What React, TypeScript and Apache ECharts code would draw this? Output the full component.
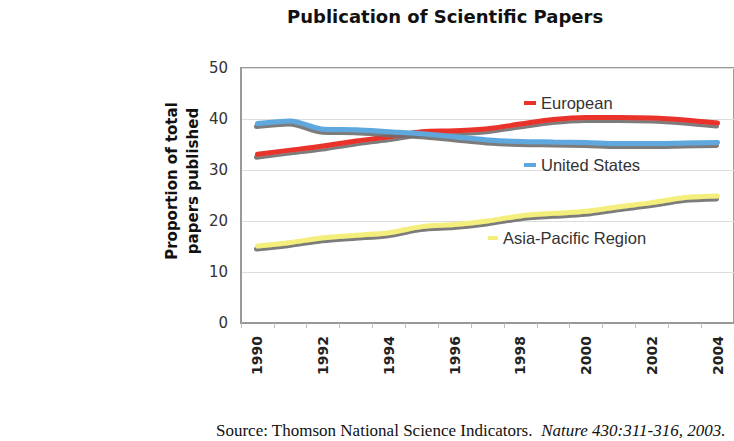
import React, { useEffect, useRef } from "react";
import * as echarts from "echarts";

const years = ["1990","1991","1992","1993","1994","1995","1996","1997","1998","1999","2000","2001","2002","2003","2004"];
const european = [33.1, 33.9, 34.7, 35.7, 36.5, 37.5, 37.7, 38.1, 39.0, 39.9, 40.3, 40.3, 40.2, 39.8, 39.2];
const unitedStates = [39.1, 39.6, 38.0, 37.9, 37.5, 37.1, 36.5, 35.9, 35.6, 35.5, 35.4, 35.2, 35.2, 35.3, 35.4];
const asiaPacific = [15.1, 15.8, 16.7, 17.2, 17.7, 18.9, 19.3, 20.0, 21.0, 21.5, 21.9, 22.8, 23.6, 24.6, 24.9];

const titleText = "Publication of Scientific Papers";
const yAxisTitle = ["Proportion of total", "papers published"];
const sourceText = "Source: Thomson National Science Indicators.";
const sourceCite = "Nature 430:311-316, 2003.";

const colors = { European: "#e8322b", "United States": "#5ea8de", "Asia-Pacific Region": "#f4ef7c" };

export default function App() {
  const ref = useRef<HTMLDivElement>(null);
  useEffect(() => {
    document.body.style.margin = "0";
    const chart = echarts.init(ref.current!, null, { renderer: "svg" });
    const mkSeries = (name: string, data: number[]) => ({
      name,
      type: "line",
      data,
      smooth: 0.3,
      symbol: "none",
      lineStyle: {
        width: 5,
        color: (colors as any)[name],
        shadowColor: "rgba(110,110,110,0.9)",
        shadowBlur: 1,
        shadowOffsetX: -1,
        shadowOffsetY: 3,
        cap: "round",
      },
      itemStyle: { color: (colors as any)[name] },
    });
    const legendCommon = {
      icon: "rect",
      itemWidth: 12,
      itemHeight: 4,
      padding: 0,
      selectedMode: false,
      textStyle: { fontFamily: "Liberation Sans", fontSize: 16.5, color: "#333", lineHeight: 18 },
    };
    chart.setOption({
      animation: false,
      backgroundColor: "#fff",
      title: {
        text: titleText,
        left: 287,
        top: 7,
        padding: 0,
        textStyle: { fontFamily: "DejaVu Sans", fontWeight: "bold", fontSize: 18, color: "#111" },
      },
      legend: [
        { ...legendCommon, data: ["European"], left: 524, top: 94 },
        { ...legendCommon, data: ["United States"], left: 524, top: 156 },
        { ...legendCommon, data: ["Asia-Pacific Region"], left: 488, itemWidth: 10, top: 229 },
      ],
      grid: {
        left: 241,
        top: 68,
        right: -3,
        bottom: 118,
        show: true,
        borderColor: "#999",
        borderWidth: 2,
      },
      xAxis: {
        type: "category",
        data: years,
        boundaryGap: true,
        axisLine: { lineStyle: { color: "#999", width: 2 } },
        axisTick: { show: true, interval: 0, length: 5, lineStyle: { color: "#bbb" } },
        axisLabel: {
          interval: 1,
          rotate: 90,
          margin: 13,
          fontFamily: "DejaVu Sans",
          fontWeight: "bold",
          fontSize: 14,
          color: "#222",
        },
      },
      yAxis: {
        type: "value",
        min: 0,
        max: 50,
        interval: 10,
        axisLine: { show: true, lineStyle: { color: "#999", width: 2 } },
        axisTick: { show: false },
        axisLabel: { margin: 13, fontFamily: "DejaVu Sans", fontSize: 15, color: "#333" },
        splitLine: { lineStyle: { color: "#ddd", width: 1 } },
      },
      graphic: [
        {
          type: "text",
          x: 182,
          y: 181,
          rotation: Math.PI / 2,
          style: {
            text: yAxisTitle.join("\n"),
            fontFamily: "DejaVu Sans",
            fontWeight: "bold",
            fontSize: 15,
            lineHeight: 21,
            fill: "#111",
            align: "center",
            verticalAlign: "middle",
          },
        },
        {
          type: "text",
          x: 216,
          y: 430,
          style: {
            text: "{a|" + sourceText + "  }{b|" + sourceCite + "}",
            verticalAlign: "middle",
            rich: {
              a: { fontFamily: "Liberation Serif", fontSize: 17, lineHeight: 19, fill: "#111" },
              b: { fontFamily: "Liberation Serif", fontSize: 17, lineHeight: 19, fontStyle: "italic", fill: "#111" },
            },
          },
        },
      ],
      series: [
        mkSeries("European", european),
        mkSeries("United States", unitedStates),
        mkSeries("Asia-Pacific Region", asiaPacific),
      ],
    });
    return () => chart.dispose();
  }, []);
  return <div ref={ref} style={{ width: 734, height: 441 }} />;
}
